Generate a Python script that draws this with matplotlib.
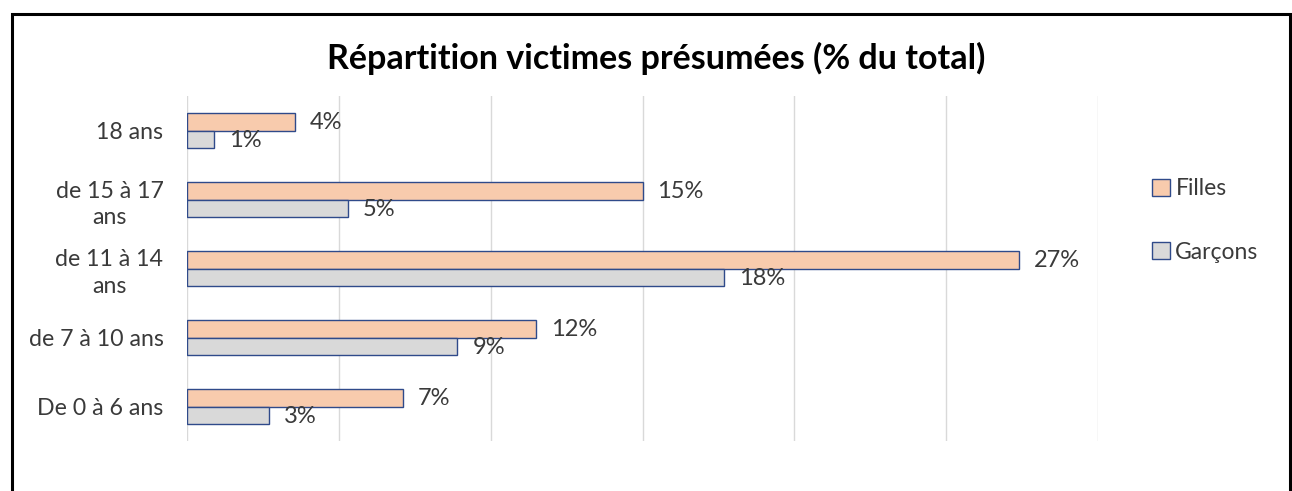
import matplotlib
matplotlib.use("Agg")
import matplotlib.pyplot as plt
from matplotlib.patches import Rectangle
import numpy as np

plt.rcParams['font.family'] = ['Lato', 'DejaVu Sans']

# Age groups, bottom to top
categories = ["De 0 à 6 ans", "de 7 à 10 ans", "de 11 à 14\nans", "de 15 à 17\nans", "18 ans"]
filles = [7.1, 11.5, 27.4, 15.0, 3.56]
garcons = [2.7, 8.9, 17.7, 5.3, 0.9]
series_names = ["Filles", "Garçons"]
title = "Répartition victimes présumées (% du total)"

W, H = 1292, 491
fig = plt.figure(figsize=(W / 100, H / 100), dpi=100)
ax = fig.add_axes([187 / W, 1 - 441 / H, (1098 - 187) / W, (441 - 96) / H])

y = np.arange(len(categories))
h = 0.26
edge = "#2F4A8A"
c_f = "#F8CBAD"
c_g = "#D9D9D9"
txt = "#3A3A3A"

bf = ax.barh(y + h / 2, filles, height=h, color=c_f, edgecolor=edge, linewidth=1.0,
             label=series_names[0], zorder=3)
bg = ax.barh(y - h / 2, garcons, height=h, color=c_g, edgecolor=edge, linewidth=1.0,
             label=series_names[1], zorder=3)

# Value labels just past the end of each bar
for bars, vals in ((bf, filles), (bg, garcons)):
    for rect, v in zip(bars, vals):
        ax.annotate(f"{v:.0f}%", xy=(v, rect.get_y() + rect.get_height() / 2),
                    xytext=(15, -1), textcoords="offset pixels",
                    ha="left", va="center", fontsize=17, color=txt, zorder=4)

ax.set_xlim(0, 30)
ax.set_ylim(-0.5, len(categories) - 0.5)
ax.set_xticks(np.arange(0, 31, 5))
ax.set_xticklabels([])
ax.tick_params(axis="x", length=0)
ax.tick_params(axis="y", length=0, pad=17, labelsize=16.7, labelcolor=txt)
ax.set_yticks(y)
ax.set_yticklabels(categories, multialignment="center", linespacing=1.35)
ax.grid(axis="x", color="#D9D9D9", linewidth=1.0, zorder=0)
for s in ax.spines.values():
    s.set_visible(False)

fig.text(656 / W, 1 - 58 / H, title, ha="center", va="center",
         fontsize=24.5, fontweight="bold", color="black")

leg = fig.legend(handles=[bf, bg], labels=series_names, loc="upper left",
                 bbox_to_anchor=(1141 / W, 1 - 167 / H), frameon=False,
                 fontsize=16.5, handlelength=0.75, handleheight=0.75, handletextpad=0.25,
                 labelspacing=1.85, borderpad=0)
for t in leg.get_texts():
    t.set_color(txt)

# Outer frame
fig.patches.append(Rectangle((11.5 / W, -0.1), (1290 - 11.5) / W, 1.1 - 13.5 / H,
                             transform=fig.transFigure, fill=False,
                             edgecolor="black", linewidth=2.2))

fig.savefig("out.png", dpi=100)
